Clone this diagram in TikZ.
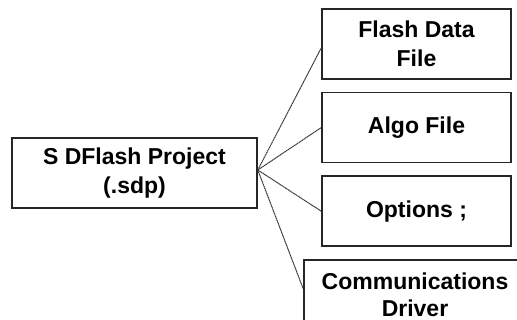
\documentclass[tikz,border=0pt]{standalone}
\usepackage{fontspec}
\setmainfont{Liberation Sans}
\usetikzlibrary{positioning}

\begin{document}
\begin{tikzpicture}[x=1pt,y=1pt,node distance=12pt,
  box/.style={draw=black!85,line width=1.6pt,fill=white,align=center,
    font=\bfseries\fontsize{23}{29}\selectfont,
    minimum height=70pt,inner sep=0pt},
  link/.style={black!80,line width=1pt,dash pattern=on 1.4pt off 0.5pt}]
  \useasboundingbox (0,0) rectangle (517,-320);
  \path
  node[box,minimum width=245pt] (sdp) at (134.5,-173) {S DFlash Project\\(.sdp)}
  node[box,minimum width=189pt] (flash) at (416.5,-44) {Flash Data\\File}
  node[box,minimum width=189pt] (algo) [below=of flash] {Algo File}
  node[box,minimum width=189pt] (opts) [below=of algo] {Options ;}
  node[box,minimum width=222pt,font=\bfseries\fontsize{23}{27}\selectfont] (comm)
    [below=of opts.south west,anchor=north west,xshift=-18pt] {Communications\\Driver}
  ;
  \coordinate (hub) at ([yshift=3pt]sdp.east);
  \path[link]
  (hub) edge ([yshift=-4pt]flash.west)
  (hub) edge (algo.west)
  (hub) edge (opts.west)
  (hub) edge ([yshift=6pt]comm.west)
  ;
\end{tikzpicture}
\end{document}
